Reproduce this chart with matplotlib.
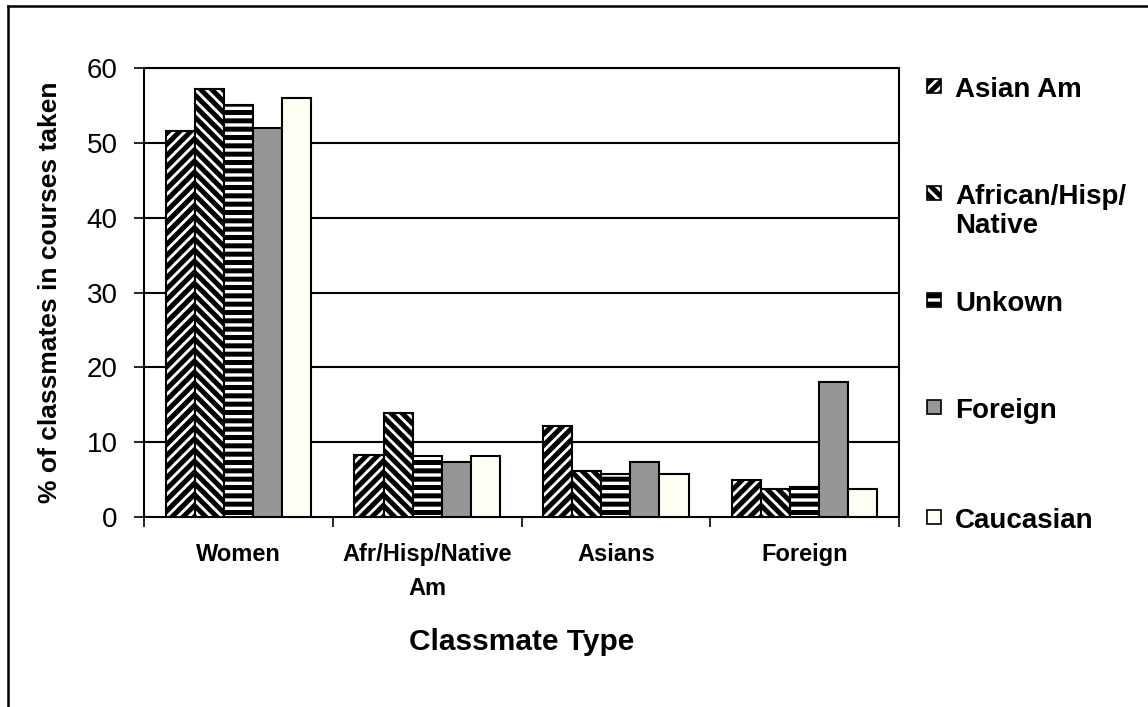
import numpy as np
import matplotlib
matplotlib.use("Agg")
import matplotlib.pyplot as plt
from matplotlib.patches import Rectangle
from matplotlib.lines import Line2D

plt.rcParams['font.family'] = ['Liberation Sans', 'DejaVu Sans']
plt.rcParams['hatch.linewidth'] = 3.6
plt.rcParams['hatch.color'] = 'black'

# data
categories = ['Women', 'Afr/Hisp/Native\nAm', 'Asians', 'Foreign']
series = ['Asian Am', 'African/Hisp/\nNative', 'Unkown', 'Foreign', 'Caucasian']
asian_am = [51.6, 8.3, 12.2, 5.0]
african = [57.2, 13.9, 6.1, 3.7]
unknown = [55.1, 8.2, 5.8, 4.0]
foreign = [52.0, 7.4, 7.4, 18.1]
caucasian = [56.0, 8.2, 5.8, 3.7]
values = [asian_am, african, unknown, foreign, caucasian]

faces = ['white', 'white', 'white', '#969696', '#FFFFF4']
hatches = ['///', '\\\\\\', '--', None, None]

fig = plt.figure(figsize=(11.48, 7.07), dpi=100)
ax = fig.add_axes([144/1148, 1-517/707, (899-144)/1148, (517-68)/707])

x = np.arange(len(categories))
w = 0.154
for k in range(len(series)):
    ax.bar(x + (k-2)*w, values[k], w, color=faces[k], hatch=hatches[k],
           edgecolor='black', linewidth=1.5, zorder=3)

ax.set_ylim(0, 60)
ax.set_xlim(-0.5, 3.5)
ax.set_yticks(range(0, 61, 10))
ax.tick_params(axis='y', labelsize=20, direction='inout', length=14, width=1.2, pad=12)
for v in range(10, 61, 10):
    ax.axhline(v, color='black', lw=1.5, zorder=1)

ax.set_xticks(np.arange(-0.5, 4, 1))
ax.set_xticklabels([])
ax.tick_params(axis='x', which='major', direction='out', length=7, width=1.2)
ax.set_xticks(x, minor=True)
ax.set_xticklabels(categories, minor=True, fontsize=17, fontweight='bold', linespacing=1.6)
ax.tick_params(axis='x', which='minor', length=0, pad=19)

for s in ax.spines.values():
    s.set_linewidth(1.5)

ax.set_ylabel('% of classmates in courses taken', fontsize=19, fontweight='bold', labelpad=18)
ax.set_xlabel('Classmate Type', fontsize=21.5, fontweight='bold', labelpad=20)

# legend drawn at the right
leg_y = [86, 193, 300, 407, 517]
for k in range(len(series)):
    yy = 1 - leg_y[k]/707
    fig.patches.append(Rectangle((927/1148, yy - 7/707), 14/1148, 14/707,
                                 transform=fig.transFigure, facecolor=faces[k],
                                 hatch=hatches[k], edgecolor='black', linewidth=1.2))
    fig.text(955/1148, yy + 9/707, series[k], fontsize=20, fontweight='bold',
             va='top', ha='left', linespacing=1.15)

# outer frame
fig.add_artist(Line2D([8/1148, 1], [1-5.5/707, 1-5.5/707], color='black', lw=1.8))
fig.add_artist(Line2D([8/1148, 8/1148], [0, 1-5.5/707], color='black', lw=1.8))

fig.savefig('out.png', dpi=100)
